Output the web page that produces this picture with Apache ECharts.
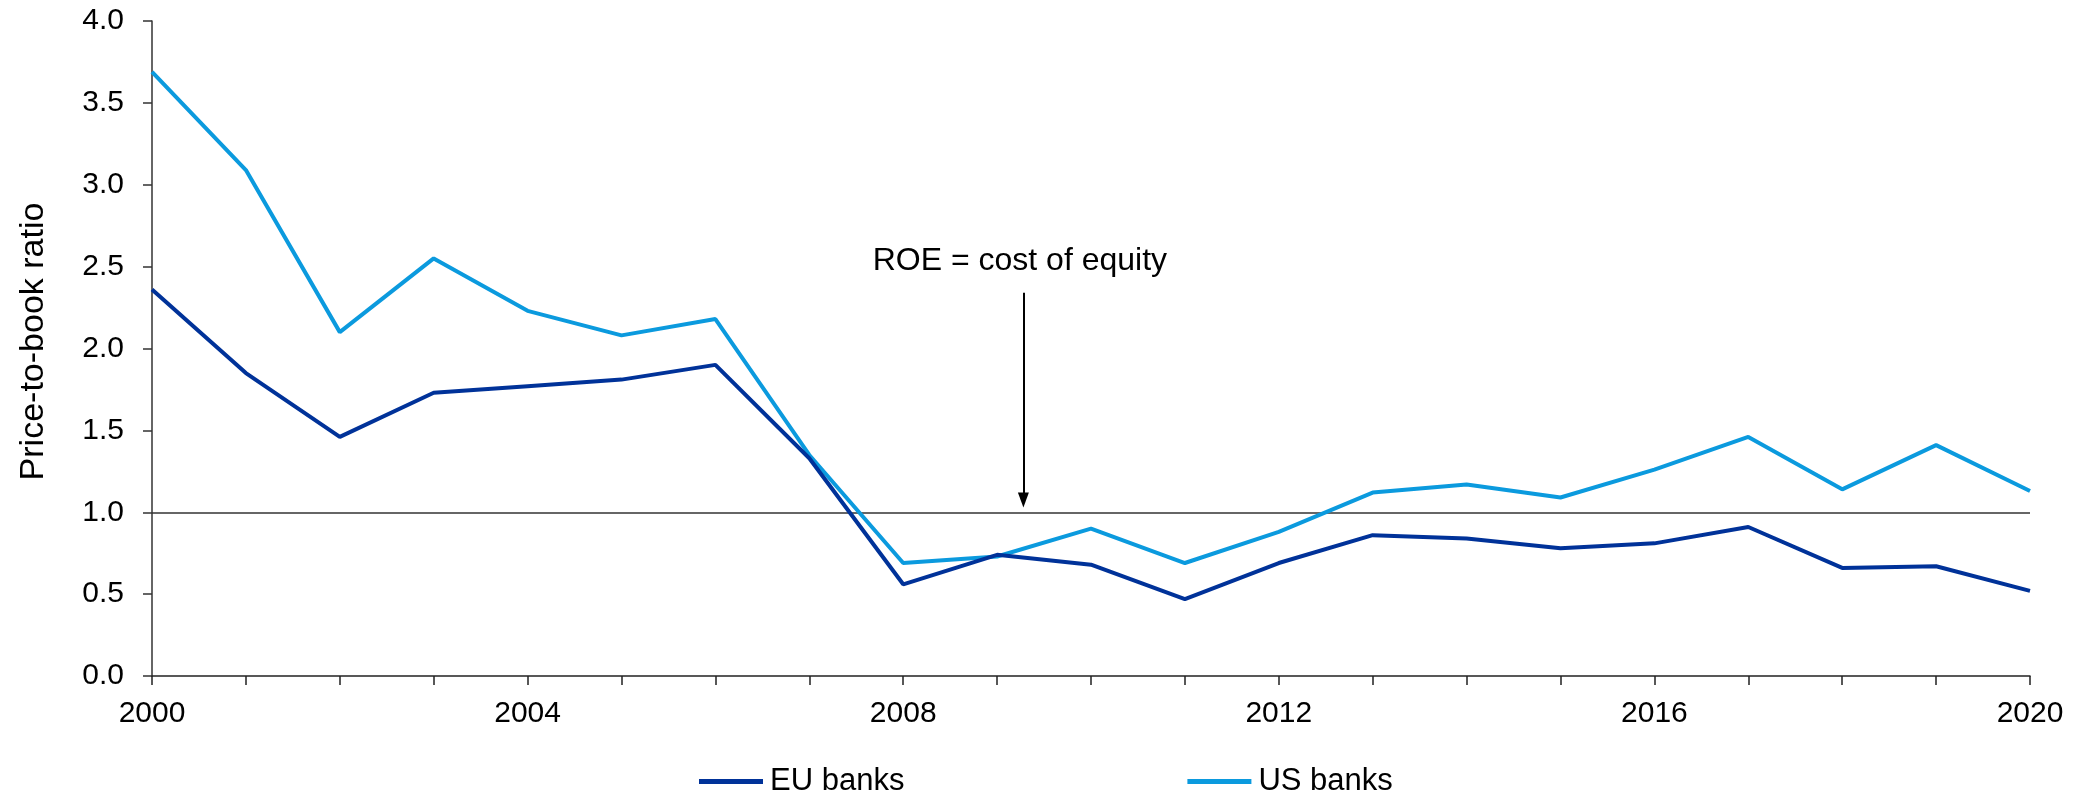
<!DOCTYPE html>
<html>
<head>
<meta charset="utf-8">
<script src="https://cdn.jsdelivr.net/npm/echarts@6/dist/echarts.min.js"></script>
<style>
  html, body { margin: 0; padding: 0; background: #ffffff; }
  #chart { width: 2090px; height: 797px; }
</style>
</head>
<body>
<div id="chart"></div>
<script>
// Annual price-to-book ratios of listed banks
const years = [2000, 2001, 2002, 2003, 2004, 2005, 2006, 2007, 2008, 2009, 2010,
               2011, 2012, 2013, 2014, 2015, 2016, 2017, 2018, 2019, 2020];
const euBanks = [2.36, 1.85, 1.46, 1.73, 1.77, 1.81, 1.90, 1.33, 0.56, 0.74, 0.68,
                 0.47, 0.69, 0.86, 0.84, 0.78, 0.81, 0.91, 0.66, 0.67, 0.52];
const usBanks = [3.69, 3.09, 2.10, 2.55, 2.23, 2.08, 2.18, 1.35, 0.69, 0.73, 0.90,
                 0.69, 0.88, 1.12, 1.17, 1.09, 1.26, 1.46, 1.14, 1.41, 1.13];
const labeledYears = [2000, 2004, 2008, 2012, 2016, 2020];

// Break-even level where return on equity equals the cost of equity
const parityLevel = 1.0;
const noteText = 'ROE = cost of equity';
const noteYear = 2009.28;
const noteFrom = 2.34;
const noteTo = 1.075;

const FONT = 'Liberation Sans, Arial, sans-serif';
const EU_COLOR = '#003299';
const US_COLOR = '#0b9ade';

const pairs = (vals) => years.map((y, i) => [y, vals[i]]);

const chart = echarts.init(document.getElementById('chart'), null, { renderer: 'canvas' });

chart.setOption({
  animation: false,
  backgroundColor: '#ffffff',
  textStyle: { fontFamily: FONT },
  grid: { left: 152, right: 60, top: 21, bottom: 121, containLabel: false, outerBoundsMode: 'none' },
  legend: {
    left: 694,
    top: 761,
    itemWidth: 64,
    itemHeight: 14,
    itemGap: 283,
    icon: 'path://M0,4.5 L64,4.5 L64,9.5 L0,9.5 Z',
    textStyle: { fontSize: 31, color: '#000', fontFamily: FONT, padding: [0, 0, 0, 2] },
    data: ['EU banks', 'US banks']
  },
  xAxis: {
    type: 'value',
    min: 2000,
    max: 2020,
    interval: 1,
    axisLine: { show: true, lineStyle: { color: '#222', width: 1.5 } },
    axisTick: { show: true, inside: false, length: 9, lineStyle: { color: '#222', width: 1.5 } },
    splitLine: { show: false },
    axisLabel: {
      fontSize: 30,
      color: '#000',
      fontFamily: FONT,
      margin: 23,
      formatter: (v) => labeledYears.includes(v) ? String(v) : ''
    }
  },
  yAxis: {
    type: 'value',
    min: 0,
    max: 4,
    interval: 0.5,
    name: 'Price-to-book ratio',
    nameLocation: 'middle',
    nameRotate: 90,
    nameGap: 101,
    nameTextStyle: { fontSize: 34, color: '#000', fontFamily: FONT, padding: [0, 0, 0, 14] },
    axisLine: { show: true, lineStyle: { color: '#333', width: 1.5 } },
    axisTick: { show: true, inside: false, length: 9, lineStyle: { color: '#333', width: 1.5 } },
    splitLine: { show: false },
    axisLabel: {
      fontSize: 30,
      color: '#000',
      fontFamily: FONT,
      margin: 28,
      formatter: (v) => v.toFixed(1)
    }
  },
  series: [
    {
      name: 'US banks',
      type: 'line',
      data: pairs(usBanks),
      symbol: 'none',
      color: US_COLOR,
      lineStyle: { color: US_COLOR, width: 4 },
      z: 3,
      markLine: {
        silent: true,
        symbol: 'none',
        animation: false,
        label: { show: false },
        lineStyle: { color: '#333', width: 1.5, type: 'solid' },
        data: [{ yAxis: parityLevel }],
        z: 1
      }
    },
    {
      name: 'EU banks',
      type: 'line',
      data: pairs(euBanks),
      symbol: 'none',
      color: EU_COLOR,
      lineStyle: { color: EU_COLOR, width: 4 },
      z: 4,
      markLine: {
        silent: true,
        animation: false,
        symbol: ['none', 'triangle'],
        symbolSize: [11, 15],
        lineStyle: { color: '#000', width: 2, type: 'solid' },
        label: {
          show: true,
          position: 'start',
          distance: 16,
          formatter: noteText,
          fontSize: 32,
          color: '#000',
          fontFamily: FONT,
          padding: [0, 7, 0, 0]
        },
        data: [[
          { coord: [noteYear, noteFrom] },
          { coord: [noteYear, noteTo] }
        ]]
      }
    }
  ]
});
</script>
</body>
</html>
